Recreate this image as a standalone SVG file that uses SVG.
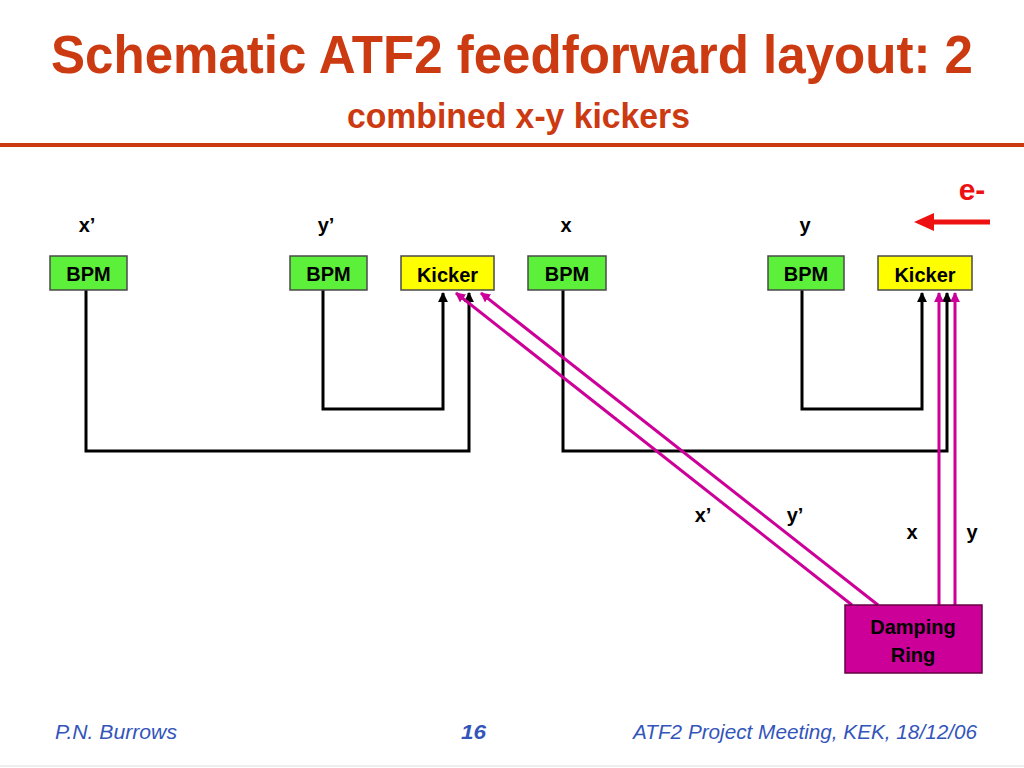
<svg xmlns="http://www.w3.org/2000/svg" width="1024" height="768" viewBox="0 0 1024 768">
<style>
.t{font-family:"Liberation Sans",Arial,sans-serif;font-weight:bold}
.box{stroke:#4a4a4a;stroke-width:1.5}
.bpm{fill:#5CF03A}
.kick{fill:#FFFF00}
.lbl{font-family:"Liberation Sans",Arial,sans-serif;font-weight:bold;font-size:20px;fill:#000;text-anchor:middle}
.blk{fill:none;stroke:#000;stroke-width:3}
.mag{fill:none;stroke:#CC0099;stroke-width:3}
.foot{font-family:"Liberation Sans",Arial,sans-serif;font-style:italic;font-size:20px;fill:#3355BB}
</style>
<defs>
<marker id="ab" viewBox="0 0 10 10" refX="9" refY="5" markerWidth="3.3" markerHeight="3.3" orient="auto" markerUnits="strokeWidth"><path d="M0,0 L10,5 L0,10 z" fill="#000"/></marker>
<marker id="am" viewBox="0 0 10 10" refX="9" refY="5" markerWidth="3.3" markerHeight="3.3" orient="auto" markerUnits="strokeWidth"><path d="M0,0 L10,5 L0,10 z" fill="#CC0099"/></marker>
</defs>
<rect width="1024" height="768" fill="#fff"/>
<g id="title">
<text class="t" transform="translate(51,73) scale(1,1.2)" x="0" y="0" font-size="45" fill="#CC3A12" textLength="922" lengthAdjust="spacingAndGlyphs">Schematic ATF2 feedforward layout: 2</text>
<text class="t" transform="translate(347,128) scale(1,1.15)" x="0" y="0" font-size="30" fill="#CC3A12" textLength="343" lengthAdjust="spacingAndGlyphs">combined x-y kickers</text>
<rect x="0" y="143" width="1024" height="4" fill="#CC3A12"/>
</g>
<g id="labels">
<text class="lbl" x="87" y="232">x’</text>
<text class="lbl" x="326" y="232">y’</text>
<text class="lbl" x="566" y="232">x</text>
<text class="lbl" x="805" y="232">y</text>
<text class="lbl" x="703" y="522">x’</text>
<text class="lbl" x="795" y="522">y’</text>
<text class="lbl" x="912" y="539">x</text>
<text class="lbl" x="972" y="539">y</text>
</g>
<g id="beam">
<text class="t" x="972" y="200" font-size="30" fill="#EE1111" text-anchor="middle">e-</text>
<line x1="990" y1="222" x2="930" y2="222" stroke="#EE1111" stroke-width="5"/>
<path d="M914,222 L934,213 L934,231 z" fill="#EE1111"/>
</g>
<g id="connectors">
<polyline class="blk" points="86,290 86,451 469,451 469,293" marker-end="url(#ab)"/>
<polyline class="blk" points="323,290 323,409 443,409 443,293" marker-end="url(#ab)"/>
<polyline class="blk" points="563,290 563,451 947,451 947,293" marker-end="url(#ab)"/>
<polyline class="blk" points="802,290 802,409 922,409 922,293" marker-end="url(#ab)"/>
<line class="mag" x1="852" y1="605" x2="456" y2="293" marker-end="url(#am)"/>
<line class="mag" x1="878" y1="605" x2="481" y2="293" marker-end="url(#am)"/>
<line class="mag" x1="939" y1="605" x2="939" y2="293" marker-end="url(#am)"/>
<line class="mag" x1="955" y1="605" x2="955" y2="293" marker-end="url(#am)"/>
</g>
<g id="bpm1"><rect class="box bpm" x="50" y="256" width="77" height="34"/><text class="lbl" x="88.5" y="281">BPM</text></g>
<g id="bpm2"><rect class="box bpm" x="290" y="256" width="77" height="34"/><text class="lbl" x="328.5" y="281">BPM</text></g>
<g id="kicker1"><rect class="box kick" x="401" y="256" width="93" height="34"/><text class="lbl" x="447.5" y="282">Kicker</text></g>
<g id="bpm3"><rect class="box bpm" x="528" y="256" width="78" height="34"/><text class="lbl" x="567" y="281">BPM</text></g>
<g id="bpm4"><rect class="box bpm" x="768" y="256" width="76" height="34"/><text class="lbl" x="806" y="281">BPM</text></g>
<g id="kicker2"><rect class="box kick" x="878" y="256" width="94" height="34"/><text class="lbl" x="925" y="282">Kicker</text></g>
<g id="damping_ring"><rect x="845" y="605" width="137" height="68" fill="#CC0099" stroke="#660044" stroke-width="1.5"/><text class="lbl" x="913" y="634" font-size="22">Damping</text><text class="lbl" x="913" y="662" font-size="22">Ring</text></g>
<g id="footer">
<text class="foot" x="55" y="739" textLength="122" lengthAdjust="spacingAndGlyphs">P.N. Burrows</text>
<text class="foot" x="461" y="739" font-weight="bold" textLength="25" lengthAdjust="spacingAndGlyphs">16</text>
<text class="foot" x="633" y="739" textLength="344" lengthAdjust="spacingAndGlyphs">ATF2 Project Meeting, KEK, 18/12/06</text>
<line x1="0" y1="766" x2="1024" y2="766" stroke="#e8e8e8" stroke-width="1.5"/>
</g>
</svg>
